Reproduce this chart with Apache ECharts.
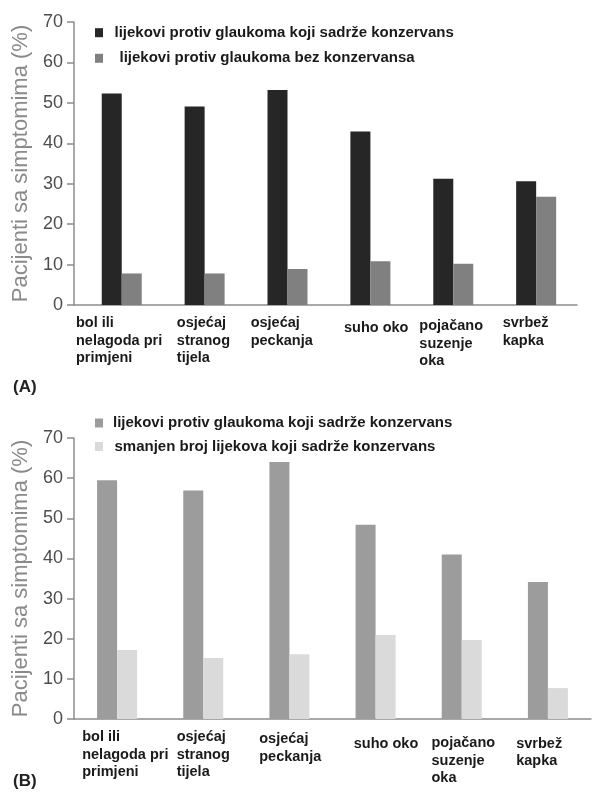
<!DOCTYPE html>
<html><head><meta charset="utf-8">
<script src="https://cdn.jsdelivr.net/npm/echarts@6/dist/echarts.min.js"></script>
<style>html,body{margin:0;padding:0;background:#fff}#c{width:594px;height:794px}</style>
</head><body><div id="c"></div>
<script>
const categories = ['bol ili\nnelagoda pri\nprimjeni', 'osjećaj\nstranog\ntijela', 'osjećaj\npeckanja', 'suho oko', 'pojačano\nsuzenje\noka', 'svrbež\nkapka'];
const nameA1 = 'lijekovi protiv glaukoma koji sadrže konzervans';
const nameA2 = 'lijekovi protiv glaukoma bez konzervansa';
const nameB1 = 'lijekovi protiv glaukoma koji sadrže konzervans ';
const nameB2 = 'smanjen broj lijekova koji sadrže konzervans';
const valuesA1 = [52.3, 49.1, 53.2, 42.9, 31.2, 30.6];
const valuesA2 = [7.8, 7.8, 8.9, 10.8, 10.2, 26.8];
const valuesB1 = [59.5, 56.9, 64.0, 48.4, 41.0, 34.1];
const valuesB2 = [17.2, 15.2, 16.1, 20.9, 19.7, 7.7];
const yName = 'Pacijenti sa simptomima (%)';
const font = 'Liberation Sans, Arial, sans-serif';

// label layout tweaks (x offset from band start, extra y offset)
const layoutA = {band: 503 / 6, off: [[2, 0], [19, 0], [9, 0], [18.5, 5], [10, 3], [9.5, 0]]};
const layoutB = {band: 523 / 6, off: [[8.7, 0], [17, 0], [13.4, 2], [21.8, 7], [13.3, 6], [11.9, 6.5]]};

function buildRich(layout) {
  const rich = {};
  const base = {align: 'left', fontSize: 14.5, fontWeight: 'bold', color: '#1a1a1a', lineHeight: 17.5, fontFamily: font};
  layout.off.forEach(([dx, dy], i) => {
    rich['t' + i] = Object.assign({}, base, {width: layout.band - dx, padding: [2 * dy, 0, 0, dx]});
  });
  return rich;
}
function fmt(v, i) {
  return v.split('\n').map(l => '{t' + i + '|' + l + '}').join('\n');
}
const axisColor = '#8c8c8c';
function xAxis(gi, layout) {
  return {
    type: 'category', gridIndex: gi, data: categories,
    axisLine: {lineStyle: {color: axisColor, width: 1.5}},
    axisTick: {length: 6, lineStyle: {color: axisColor, width: 1.5}},
    axisLabel: {interval: 0, margin: 9.25, formatter: fmt, rich: buildRich(layout), verticalAlign: 'top'}
  };
}
function yAxis(gi) {
  return {
    type: 'value', gridIndex: gi, min: 0, max: 70, interval: 10,
    name: yName, nameLocation: 'middle', nameGap: 41,
    nameTextStyle: {fontSize: 22, color: '#8a8a8a', fontFamily: font},
    splitLine: {show: false},
    axisLine: {show: true, lineStyle: {color: axisColor, width: 1.5}},
    axisTick: {show: true, length: 7, lineStyle: {color: axisColor, width: 1.5}},
    axisLabel: {fontSize: 18, color: '#4d4d4d', margin: 11, fontFamily: font}
  };
}
const legendBase = {
  orient: 'vertical', icon: 'rect', itemWidth: 8, itemHeight: 9, left: 90,
  textStyle: {fontSize: 15, fontWeight: 'bold', color: '#1a1a1a', lineHeight: 16, fontFamily: font}, selectedMode: false
};
const chart = echarts.init(document.getElementById('c'), null, {renderer: 'canvas'});
chart.setOption({
  animation: false,
  textStyle: {fontFamily: font},
  title: [
    {text: '(A)', left: 8, top: 374, textStyle: {fontSize: 17, fontWeight: 'bold', color: '#222', fontFamily: font}},
    {text: '(B)', left: 8, top: 768, textStyle: {fontSize: 17, fontWeight: 'bold', color: '#222', fontFamily: font}}
  ],
  legend: [
    Object.assign({}, legendBase, {top: 19.7, itemGap: 9.6,
      data: [{name: nameA1, textStyle: {padding: [0, 0, 0, 6.5]}}, {name: nameA2, textStyle: {padding: [0, 0, 0, 11.5]}}]}),
    Object.assign({}, legendBase, {top: 410, itemGap: 7.5,
      data: [{name: nameB1, textStyle: {padding: [0, 0, 0, 5]}}, {name: nameB2, textStyle: {padding: [0, 0, 0, 6.5]}}]})
  ],
  grid: [
    {left: 74, top: 22, width: 503, height: 283},
    {left: 74, top: 438, width: 523, height: 281},
    {left: 80.3, top: 22, width: 497.3, height: 283}
  ],
  xAxis: [xAxis(0, layoutA), xAxis(1, layoutB),
    {type: 'category', gridIndex: 2, data: categories, show: false}],
  yAxis: [yAxis(0), yAxis(1),
    {type: 'value', gridIndex: 2, min: 0, max: 70, interval: 10, show: false, splitLine: {show: false}}],
  series: [
    {name: nameA1, type: 'bar', xAxisIndex: 2, yAxisIndex: 2, data: valuesA1, barWidth: 20, barGap: '0%', itemStyle: {color: '#262626'}},
    {name: nameA2, type: 'bar', xAxisIndex: 2, yAxisIndex: 2, data: valuesA2, barWidth: 20, barGap: '0%', itemStyle: {color: '#808080'}},
    {name: nameB1, type: 'bar', xAxisIndex: 1, yAxisIndex: 1, data: valuesB1, barWidth: 20, barGap: '0%', itemStyle: {color: '#9c9c9c'}},
    {name: nameB2, type: 'bar', xAxisIndex: 1, yAxisIndex: 1, data: valuesB2, barWidth: 20, barGap: '0%', itemStyle: {color: '#dadada'}}
  ]
});
</script></body></html>
